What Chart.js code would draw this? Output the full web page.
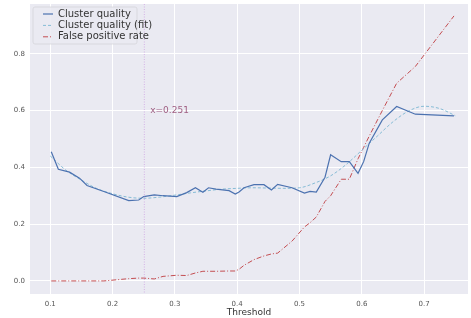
<!DOCTYPE html>
<html>
<head>
<meta charset="utf-8">
<script src="https://cdn.jsdelivr.net/npm/chart.js@4"></script>
<style>
  body { margin: 0; background: #fff; }
  #wrap { width: 471px; height: 318px; position: relative; }
</style>
</head>
<body>
<div id="wrap"><canvas id="chart"></canvas></div>
<script>
// ---- data ----
const thresholds = [0.1016, 0.113, 0.131, 0.147, 0.159, 0.186, 0.226, 0.242, 0.25, 0.267,
    0.281, 0.303, 0.319, 0.333, 0.345, 0.354, 0.366, 0.387, 0.397, 0.403,
    0.411, 0.427, 0.443, 0.455, 0.465, 0.488, 0.508, 0.517, 0.527, 0.541,
    0.55, 0.567, 0.58, 0.594, 0.603, 0.612, 0.633, 0.656, 0.686, 0.748];
const clusterQuality = [0.455, 0.393, 0.383, 0.362, 0.336, 0.315, 0.283, 0.285, 0.297, 0.303,
    0.3, 0.297, 0.311, 0.328, 0.312, 0.328, 0.323, 0.318, 0.306, 0.313,
    0.328, 0.339, 0.339, 0.32, 0.34, 0.328, 0.309, 0.315, 0.313, 0.365,
    0.444, 0.42, 0.42, 0.379, 0.42, 0.485, 0.567, 0.614, 0.587, 0.581];
const falsePositive = [0, 0, 0, 0, 0, 0, 0.008, 0.01, 0.01, 0.007,
    0.016, 0.02, 0.019, 0.028, 0.034, 0.034, 0.034, 0.035, 0.035, 0.041,
    0.055, 0.075, 0.088, 0.095, 0.098, 0.14, 0.19, 0.205, 0.225, 0.28,
    0.3, 0.358, 0.358, 0.43, 0.47, 0.51, 0.6, 0.696, 0.755, 0.933];
const fitX = [0.1, 0.125, 0.15, 0.175, 0.2, 0.225, 0.25, 0.275, 0.3, 0.325, 0.35, 0.375,
    0.4, 0.425, 0.45, 0.475, 0.5, 0.525, 0.55, 0.575, 0.6, 0.625, 0.65, 0.675, 0.7, 0.725, 0.75];
const fitY = [0.44, 0.39, 0.355, 0.325, 0.307, 0.295, 0.291, 0.295, 0.302, 0.31, 0.317, 0.323,
    0.326, 0.328, 0.327, 0.326, 0.328, 0.345, 0.37, 0.41, 0.46, 0.51, 0.56, 0.598, 0.615, 0.607, 0.582];
const xTicks = [0.1, 0.2, 0.3, 0.4, 0.5, 0.6, 0.7];
const yTicks = [0.0, 0.2, 0.4, 0.6, 0.8];
const markX = 0.251;

const FONT = "'DejaVu Sans', sans-serif";

// seaborn style background + legend + vertical marker
const bgPlugin = {
    id: "bgPlugin",
    beforeDraw(chart) {
        const { ctx, chartArea: a } = chart;
        ctx.save();
        ctx.fillStyle = "#eaeaf2";
        ctx.fillRect(a.left, a.top, a.right - a.left, a.bottom - a.top);
        ctx.restore();
    },
    afterDatasetsDraw(chart) {
        const { ctx, chartArea: a, scales } = chart;
        // marker line
        const px = scales.x.getPixelForValue(markX);
        ctx.save();
        ctx.strokeStyle = "rgba(195,135,220,0.55)";
        ctx.lineWidth = 1;
        ctx.setLineDash([1, 1.5]);
        ctx.beginPath();
        ctx.moveTo(px, a.top);
        ctx.lineTo(px, a.bottom);
        ctx.stroke();
        ctx.setLineDash([]);
        ctx.fillStyle = "#a05f82";
        ctx.font = "9px " + FONT;
        ctx.textBaseline = "alphabetic";
        ctx.fillText("x=" + markX, scales.x.getPixelForValue(0.2605), scales.y.getPixelForValue(0.6) + 2);

        // legend box
        const x0 = a.left + 3, y0 = a.top + 3, w = 104, h = 37;
        ctx.fillStyle = "rgba(234,234,242,0.85)";
        ctx.strokeStyle = "rgba(210,210,215,0.9)";
        ctx.lineWidth = 0.8;
        ctx.beginPath();
        ctx.roundRect(x0, y0, w, h, 2);
        ctx.fill();
        ctx.stroke();
        ctx.font = "10px " + FONT;
        ctx.textBaseline = "middle";
        chart.data.datasets.forEach((ds, i) => {
            const y = y0 + 7 + i * 11.4;
            ctx.strokeStyle = ds.borderColor;
            ctx.lineWidth = ds.borderWidth;
            ctx.setLineDash(ds.borderDash || []);
            ctx.beginPath();
            ctx.moveTo(x0 + 10, y);
            ctx.lineTo(x0 + 20, y);
            ctx.stroke();
            ctx.setLineDash([]);
            ctx.fillStyle = "#333";
            ctx.fillText(ds.label, x0 + 25, y);
        });
        ctx.restore();
    },
};

new Chart(document.getElementById("chart"), {
    type: "line",
    data: {
        datasets: [
            {
                label: "Cluster quality",
                data: thresholds.map((t, i) => ({ x: t, y: clusterQuality[i] })),
                borderColor: "#4c72b0",
                borderWidth: 1.2,
                pointRadius: 0,
                tension: 0,
            },
            {
                label: "Cluster quality (fit)",
                data: fitX.map((t, i) => ({ x: t, y: fitY[i] })),
                borderColor: "#86bcd6",
                borderWidth: 1,
                borderDash: [3, 2],
                pointRadius: 0,
                tension: 0.4,
                cubicInterpolationMode: "monotone",
            },
            {
                label: "False positive rate",
                data: thresholds.map((t, i) => ({ x: t, y: falsePositive[i] })),
                borderColor: "#c44e52",
                borderWidth: 1,
                borderDash: [5, 2, 1, 2],
                pointRadius: 0,
                tension: 0,
            },
        ],
    },
    options: {
        responsive: true,
        maintainAspectRatio: false,
        animation: false,
        layout: { padding: { top: 4, right: 3, left: 0, bottom: 0 } },
        plugins: { legend: { display: false }, tooltip: { enabled: false } },
        scales: {
            x: {
                type: "linear",
                min: 0.0675,
                max: 0.7705,
                afterBuildTicks: (s) => { s.ticks = xTicks.map((v) => ({ value: v })); },
                afterFit: (s) => { s.height = 24; s.paddingLeft = 0; s.paddingRight = 0; },
                grid: { color: "#ffffff", lineWidth: 1, drawTicks: false },
                border: { display: false },
                ticks: {
                    padding: 6,
                    color: "#555",
                    font: { family: FONT, size: 7 },
                    callback: (v) => v.toFixed(1),
                },
                title: {
                    display: true,
                    text: "Threshold",
                    color: "#333",
                    font: { family: FONT, size: 9 },
                    padding: { top: 0, bottom: 0 },
                },
            },
            y: {
                min: -0.046,
                max: 0.975,
                afterBuildTicks: (s) => { s.ticks = yTicks.map((v) => ({ value: v })); },
                afterFit: (s) => { s.width = 30; s.paddingTop = 0; s.paddingBottom = 0; },
                grid: { color: "#ffffff", lineWidth: 1, drawTicks: false },
                border: { display: false },
                ticks: {
                    padding: 5,
                    color: "#555",
                    font: { family: FONT, size: 7 },
                    callback: (v) => v.toFixed(1),
                },
            },
        },
    },
    plugins: [bgPlugin],
});
</script>
</body>
</html>
